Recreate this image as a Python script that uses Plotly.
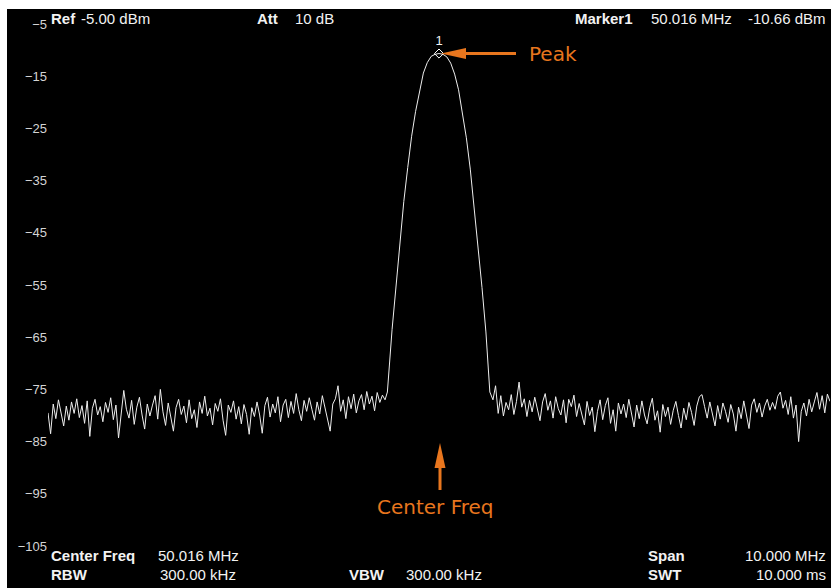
import numpy as np
import plotly.graph_objects as go

# analyzer settings (MHz / dBm)
center_freq = 50.016
span = 10.0
ref_level = -5.0
bottom_level = -105.0
marker_freq = 50.016
marker_level = -10.66

# noise floor left of the carrier (dBm)
noise_left = [
    -79.5, -83.5, -77.8, -80.6, -77.0, -79.8, -82.0, -78.2, -80.9, -77.4,
    -79.6, -76.8, -80.4, -78.1, -81.5, -77.2, -84.0, -78.6, -76.9, -79.9,
    -78.3, -81.2, -77.5, -79.4, -76.6, -80.8, -78.0, -84.3, -79.0, -75.2,
    -78.8, -80.5, -77.1, -81.7, -78.4, -76.5, -79.9, -82.6, -77.8, -80.1,
    -78.0, -76.2, -80.7, -75.0, -79.3, -81.9, -77.6, -80.2, -83.0, -78.5,
    -76.9, -79.8, -78.2, -81.4, -77.0, -80.6, -78.9, -82.3, -77.4, -79.6,
    -76.3, -80.1, -78.6, -81.8, -77.7, -79.2, -76.8, -80.9, -83.8, -78.0,
    -79.4, -77.2, -80.7, -78.3, -81.6, -77.9, -79.8, -83.6, -78.5, -80.2,
    -77.4, -79.9, -83.4, -78.1, -76.5, -80.3, -77.8, -79.5, -76.4, -81.2,
    -78.0, -76.9, -80.4, -77.3, -79.6, -75.8, -78.9, -81.0, -77.1, -79.2,
    -76.6, -78.8, -80.9, -77.4, -79.7, -76.2, -78.5, -81.3, -83.0, -77.8,
    -76.8, -74.3, -79.2, -77.0, -80.6, -76.4, -78.7, -75.9, -79.5, -77.2,
    -76.0, -78.9, -75.4, -77.8, -76.3, -79.1, -75.6, -77.5, -76.1, -77.0,
]

# carrier response, offset from centre (MHz) and level (dBm)
peak_offset = [-0.66, -0.60, -0.55, -0.50, -0.45, -0.40, -0.35, -0.30, -0.25,
               -0.20, -0.15, -0.10, -0.05, 0.0, 0.05, 0.10, 0.15, 0.20, 0.25,
               0.30, 0.35, 0.40, 0.45, 0.50, 0.55, 0.60, 0.65]
peak_level = [-75.5, -63.5, -55.5, -46.5, -39.0, -32.5, -26.5, -21.8, -17.8,
              -14.4, -12.4, -11.2, -10.8, -10.66, -10.8, -11.3, -12.5, -14.6, -17.6,
              -21.8, -26.8, -32.8, -40.0, -47.5, -55.5, -64.0, -75.5]

# noise floor right of the carrier (dBm)
noise_right = [
    -77.0, -74.3, -79.6, -76.2, -80.1, -77.5, -78.9, -76.0, -79.8, -77.3,
    -73.6, -78.4, -76.8, -80.2, -77.1, -79.3, -76.5, -78.8, -81.0, -77.4,
    -75.8, -79.0, -77.2, -80.5, -76.4, -78.7, -79.9, -77.0, -81.4, -76.9,
    -78.3, -76.1, -80.2, -77.7, -79.5, -81.8, -77.3, -80.0, -78.4, -83.1,
    -79.2, -77.0, -80.8, -78.1, -76.6, -81.5, -78.9, -83.0, -77.6, -79.7,
    -77.8, -80.4, -76.9, -79.3, -82.2, -78.0, -80.6, -77.2, -79.9, -81.6,
    -78.5, -76.7, -80.9, -79.1, -83.2, -77.9, -80.2, -78.4, -81.7, -79.0,
    -77.3, -80.0, -82.4, -78.6, -80.8, -77.5, -79.4, -81.9, -78.2, -76.4,
    -76.0, -78.3, -80.5, -77.4, -79.9, -82.0, -78.1, -80.7, -77.6, -79.2,
    -81.3, -77.9, -79.7, -83.0, -78.4, -80.6, -77.2, -79.8, -82.5, -78.0,
    -76.8, -79.4, -77.6, -80.3, -78.2, -76.9, -79.0, -77.5, -78.8, -76.3,
    -75.5, -78.6, -77.1, -79.8, -76.4, -80.5, -78.0, -85.0, -79.2, -77.6,
    -80.1, -76.9, -79.3, -77.4, -75.6, -78.8, -76.2, -79.5, -75.9, -77.3,
]

y_ticks = list(range(-5, -106, -10))

# screenshot has a white strip left/top: use the page margin for it
OX, OY = 7, 9
W, H = 831 - OX, 588 - OY
L, R, T, B = 48 - OX, 1, 24 - OY, 42
ORANGE = "#E8761E"
TXT = "#f2f2f2"
FONT = "Liberation Sans, Arial, sans-serif"


# convert screen pixels to paper coords
def px(x):
    return (x - OX - L) / (W - L - R)


def py(y):
    return (H - B - (y - OY)) / (H - T - B)


f_start = center_freq - span / 2
f_stop = center_freq + span / 2
freq = np.concatenate([
    np.linspace(f_start, center_freq - 0.69, len(noise_left)),
    center_freq + np.array(peak_offset),
    np.linspace(center_freq + 0.69, f_stop, len(noise_right)),
])
level = np.concatenate([noise_left, peak_level, noise_right])

fig = go.Figure()
fig.add_trace(go.Scatter(x=freq, y=level, mode="lines",
                         line=dict(color="#eeeeee", width=1), hoverinfo="skip"))
fig.add_trace(go.Scatter(x=[marker_freq], y=[marker_level], mode="markers+text",
                         marker=dict(symbol="diamond-open", size=7, color="#ffffff",
                                     line=dict(width=1)),
                         text=["1"], textposition="top center",
                         textfont=dict(color=TXT, size=13, family=FONT)))


def add_text(x, y, text, bold=False, size=15, anchor="left", color=TXT, family=FONT):
    if bold:
        text = "<b>" + text + "</b>"
    fig.add_annotation(x=px(x), y=py(y), xref="paper", yref="paper", text=text,
                       showarrow=False, xanchor=anchor, yanchor="middle",
                       font=dict(color=color, size=size, family=family))


# header
add_text(49, 19, "Ref", bold=True)
add_text(79, 19, "-5.00 dBm")
add_text(255, 19, "Att", bold=True)
add_text(293, 19, "10 dB")
add_text(573, 19, "Marker1", bold=True)
add_text(649, 19, "50.016 MHz")
add_text(828, 19, "-10.66 dBm", anchor="right")

# footer
add_text(49, 555, "Center Freq", bold=True)
add_text(156, 555, "50.016 MHz")
add_text(49, 574, "RBW", bold=True)
add_text(158, 574, "300.00 kHz")
add_text(347, 574, "VBW", bold=True)
add_text(404, 574, "300.00 kHz")
add_text(646, 555, "Span", bold=True)
add_text(828, 555, "10.000 MHz", anchor="right")
add_text(646, 574, "SWT", bold=True)
add_text(828, 574, "10.000 ms", anchor="right")

# orange callouts
add_text(527, 54, "Peak", size=20, color=ORANGE, family="DejaVu Sans")
add_text(375, 507, "Center Freq", size=20, color=ORANGE, family="DejaVu Sans")

shapes = [
    # peak arrow
    dict(type="line", xref="paper", yref="paper", x0=px(516), x1=px(462), y0=py(53.5), y1=py(53.5),
         line=dict(color=ORANGE, width=3)),
    dict(type="path", xref="paper", yref="paper",
         path=f"M {px(441)} {py(53.5)} L {px(466)} {py(48)} L {px(466)} {py(59)} Z",
         fillcolor=ORANGE, line=dict(width=0)),
    # centre frequency arrow
    dict(type="line", xref="paper", yref="paper", x0=px(440), x1=px(440), y0=py(490), y1=py(465),
         line=dict(color=ORANGE, width=3)),
    dict(type="path", xref="paper", yref="paper",
         path=f"M {px(440)} {py(443)} L {px(434.5)} {py(468)} L {px(445.5)} {py(468)} Z",
         fillcolor=ORANGE, line=dict(width=0)),
]

fig.update_layout(
    width=W, height=H,
    margin=dict(l=L, r=R, t=T, b=B),
    paper_bgcolor="black", plot_bgcolor="black",
    showlegend=False,
    shapes=shapes,
    xaxis=dict(range=[f_start, f_stop], showgrid=False, zeroline=False,
               showticklabels=False, ticks=""),
    yaxis=dict(range=[bottom_level, ref_level], tickvals=y_ticks, showgrid=False,
               zeroline=False, ticks="",
               tickfont=dict(color="#d4d4d4", size=13, family=FONT)),
)

fig.write_html("out.html",
               post_script=f"document.body.style.margin='{OY}px 0 0 {OX}px';")
